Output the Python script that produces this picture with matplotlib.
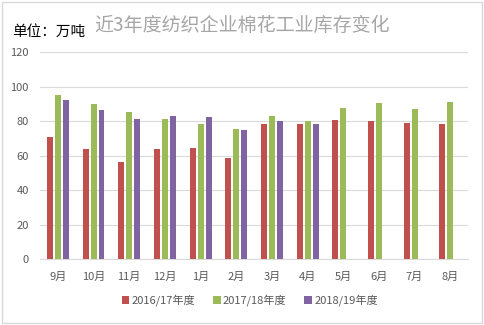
import numpy as np
import matplotlib
matplotlib.use("Agg")
import matplotlib.pyplot as plt
from matplotlib.patches import Rectangle

plt.rcParams['font.family'] = ['Noto Sans CJK SC', 'DejaVu Sans']

months = ['9月', '10月', '11月', '12月', '1月', '2月', '3月', '4月', '5月', '6月', '7月', '8月']
s1617 = [71.0, 63.9, 56.3, 63.9, 64.6, 58.6, 78.4, 78.4, 80.7, 80.1, 79.0, 78.4]
s1718 = [95.2, 90.0, 85.4, 81.3, 78.4, 75.5, 83.0, 80.1, 87.7, 90.6, 87.1, 91.2]
s1819 = [92.5, 86.5, 81.3, 83.0, 82.5, 74.9, 80.1, 78.4]
labels = ['2016/17年度', '2017/18年度', '2018/19年度']
colors = ['#c0504d', '#9bbb59', '#8064a2']

fig = plt.figure(figsize=(4.85, 3.25), dpi=100)
ax = fig.add_axes([0.0825, 0.203, 0.8825, 0.636])

x = np.arange(len(months))
w = 0.168
step = 0.224
for i, (vals, lab, c) in enumerate(zip([s1617, s1718, s1819], labels, colors)):
    xs = x[:len(vals)] + (i - 1) * step
    ax.bar(xs, vals, width=w, color=c, label=lab, zorder=3)

ax.set_xlim(-0.5, len(months) - 0.5)
ax.set_ylim(0, 120)
ax.set_yticks(range(0, 121, 20))
ax.set_xticks(x)
ax.set_xticklabels(months)
ax.grid(axis='y', color='#d9d9d9', linewidth=0.8, zorder=0)
for s in ['top', 'right', 'left']:
    ax.spines[s].set_visible(False)
ax.spines['bottom'].set_color('#d9d9d9')
ax.tick_params(axis='both', length=0, colors='#595959', labelsize=8)
ax.tick_params(axis='x', pad=9)
ax.tick_params(axis='y', pad=8)

fig.text(0.5, 0.922, '近3年度纺织企业棉花工业库存变化', ha='center', va='center',
         fontsize=13.7, color='#a6a6a6')
fig.text(0.025, 0.902, '单位：万吨', ha='left', va='center', fontsize=10.5, color='black')

ax.legend(loc='center', bbox_to_anchor=(0.49, -0.2), ncol=3, frameon=False,
          fontsize=8, handlelength=0.7, handleheight=0.7, handletextpad=0.2,
          columnspacing=1.6, labelcolor='#595959')

fig.patches.append(Rectangle((0.004, 0.006), 0.99, 0.988, transform=fig.transFigure,
                             fill=False, edgecolor='#d9d9d9', linewidth=1))

fig.savefig('out.png', dpi=100)
